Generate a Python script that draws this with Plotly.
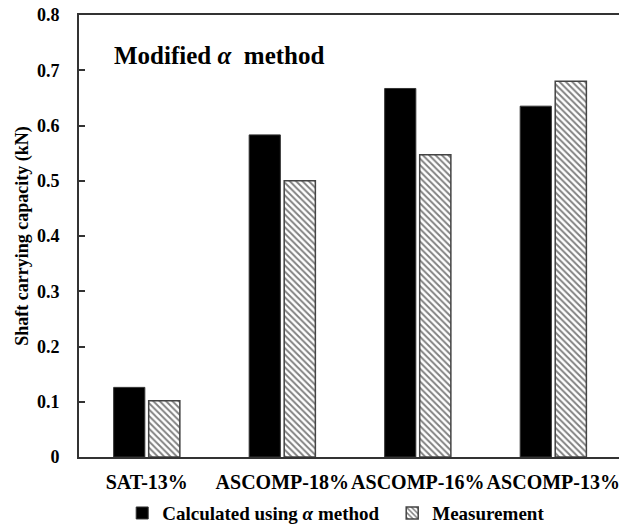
import plotly.graph_objects as go

categories = ["SAT-13%", "ASCOMP-18%", "ASCOMP-16%", "ASCOMP-13%"]
calculated = [0.126, 0.583, 0.667, 0.635]
measurement = [0.102, 0.500, 0.547, 0.680]
y_ticks = [0, 0.1, 0.2, 0.3, 0.4, 0.5, 0.6, 0.7, 0.8]

FONT = "Liberation Serif"

fig = go.Figure()
fig.add_trace(go.Bar(
    x=categories, y=calculated,
    name="<b>Calculated using <i>α</i> method</b>",
    marker=dict(color="black", line=dict(color="#333", width=1)),
    legend="legend",
))
fig.add_trace(go.Bar(
    x=categories, y=measurement,
    name="<b>Measurement</b>",
    marker=dict(color="white", line=dict(color="#444", width=1.5),
                pattern=dict(shape="\\", fgcolor="black", bgcolor="white",
                             size=4.5, solidity=0.42)),
    legend="legend2",
))

legend_common = dict(orientation="h", xanchor="left", y=-0.127, yanchor="middle",
                     font=dict(family=FONT, size=19, color="black"),
                     bgcolor="rgba(0,0,0,0)", itemwidth=30)

fig.update_layout(
    width=619, height=527,
    margin=dict(l=79, r=0, t=15, b=70, autoexpand=False),
    paper_bgcolor="white", plot_bgcolor="white",
    barmode="group", bargap=0.483, bargroupgap=0.11,
    font=dict(family=FONT, size=15, color="black"),
    showlegend=True,
    legend=dict(x=0.08, **legend_common),
    legend2=dict(x=0.58, **legend_common),
    annotations=[dict(
        text="<b>Modified <i>α</i>  method</b>", x=0.061, y=0.909,
        xref="paper", yref="paper", xanchor="left", yanchor="middle",
        showarrow=False, font=dict(family=FONT, size=25, color="black"))],
)
fig.update_xaxes(
    type="category", range=[-0.5, 3.485], automargin=False,
    tickvals=categories, ticktext=[f"<b>{c}</b>" for c in categories],
    showline=True, linecolor="#333", linewidth=2, mirror=True,
    ticks="", showgrid=False, ticklabelstandoff=6,
    tickfont=dict(family=FONT, size=20),
)
fig.update_yaxes(
    range=[0, 0.8], tickvals=y_ticks, ticktext=[f"<b>{v:g}</b>" for v in y_ticks],
    showline=True, linecolor="#333", linewidth=2, automargin=False,
    ticks="inside", ticklen=6, tickcolor="#333", tickwidth=1.5,
    showgrid=False, zeroline=False, ticklabelstandoff=14,
    tickfont=dict(family=FONT, size=18),
    title=dict(text="<b>Shaft carrying capacity (kN)</b>", standoff=4,
               font=dict(family=FONT, size=18)),
)

fig.write_html("out.html")
